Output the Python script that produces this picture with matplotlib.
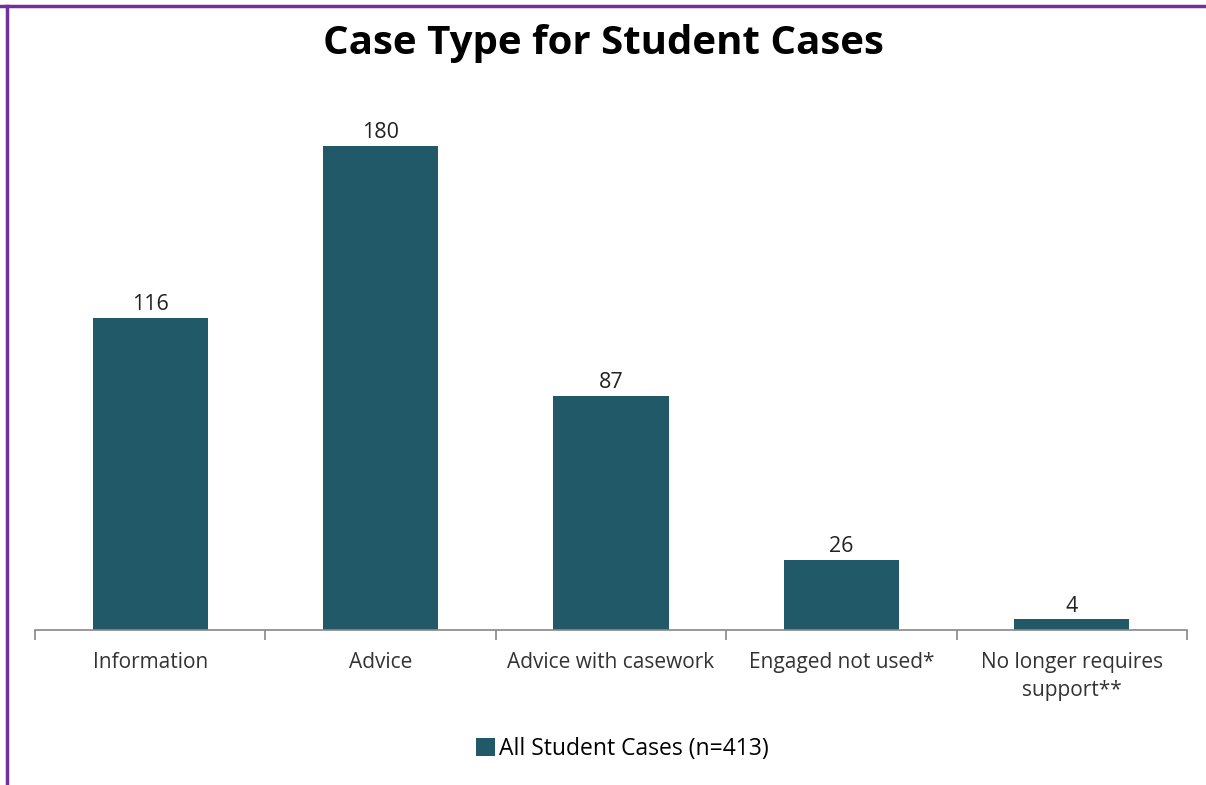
import numpy as np
import matplotlib.pyplot as plt
from matplotlib.lines import Line2D

categories = ["Information", "Advice", "Advice with casework",
              "Engaged not used*", "No longer requires\nsupport**"]
values = [116, 180, 87, 26, 4]
series_name = "All Student Cases (n=413)"

bar_color = "#215968"
plt.rcParams['font.family'] = ['Open Sans', 'DejaVu Sans']

fig = plt.figure(figsize=(12.06, 7.85), dpi=100)
ax = fig.add_axes([0.029, 0.1975, 0.9553, 0.6853])

x = np.arange(len(categories))
bars = ax.bar(x, values, width=0.5, color=bar_color, label=series_name, zorder=2)

for xi, v in zip(x, values):
    ax.text(xi, v + 1.0, str(v), ha="center", va="bottom", fontsize=15.5, color="#222222")

ax.set_xlim(-0.5, len(categories) - 0.5)
ax.set_ylim(0, 200)

# category boundary ticks like the original
ax.set_xticks(np.arange(-0.5, len(categories)), minor=False)
ax.set_xticklabels([])
ax.set_xticks(x, minor=True)
ax.set_xticklabels(categories, minor=True, fontsize=15, color="#333333", linespacing=1.45)
ax.tick_params(axis="x", which="major", length=7, color="#888888", width=1.2)
ax.tick_params(axis="x", which="minor", length=0, pad=16)

ax.set_yticks([])
for side in ["top", "right", "left"]:
    ax.spines[side].set_visible(False)
ax.spines["bottom"].set_color("#888888")
ax.spines["bottom"].set_linewidth(1.2)

fig.suptitle("Case Type for Student Cases", y=0.97, fontsize=29, fontweight="bold")

fig.legend(loc="center", bbox_to_anchor=(0.516, 0.046), frameon=False, fontsize=16.5,
           handlelength=0.85, handleheight=0.85, handletextpad=0.15)

# purple frame lines on top and left edge
fig.add_artist(Line2D([0, 1], [0.992, 0.992], color="#7030a0", lw=2.5))
fig.add_artist(Line2D([0.006, 0.006], [0, 0.992], color="#7030a0", lw=2.5))

fig.savefig("out.png", dpi=100)
